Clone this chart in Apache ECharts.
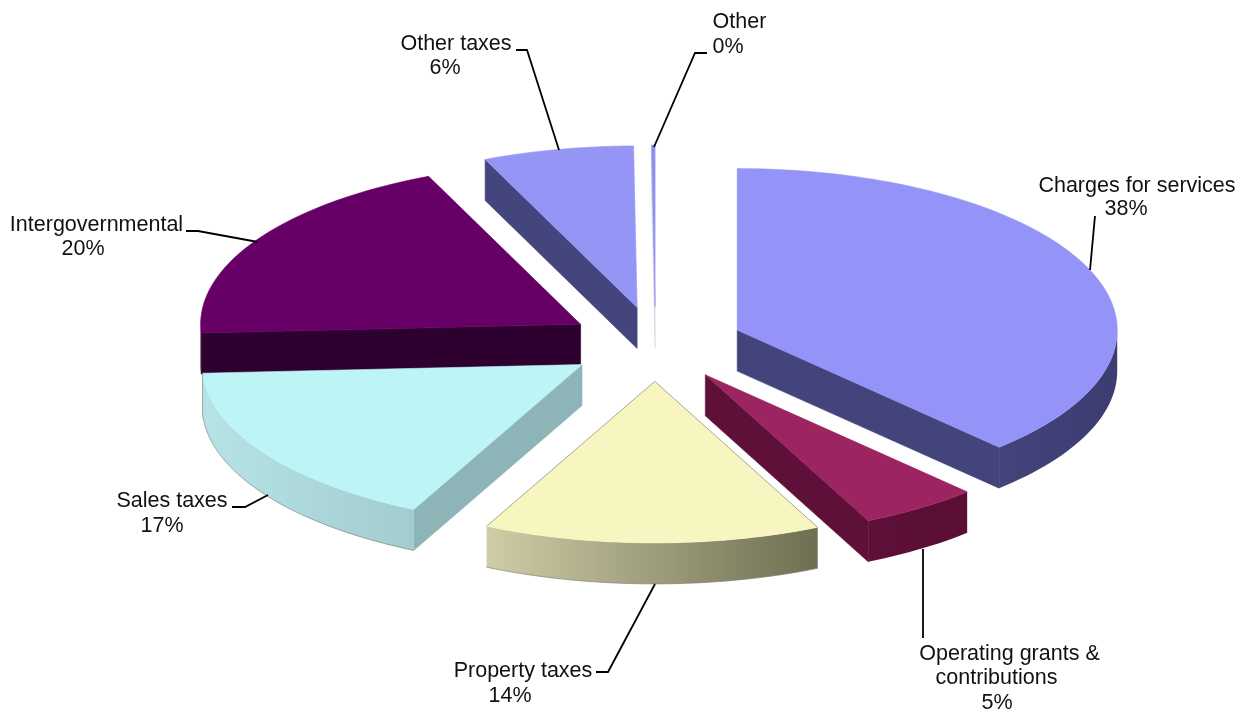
<!DOCTYPE html>
<html><head><meta charset="utf-8">
<style>html,body{margin:0;padding:0;background:#fff}#c{width:1251px;height:711px}</style>
<script src="https://cdn.jsdelivr.net/npm/echarts@6/dist/echarts.min.js"></script>
</head><body><div id="c"></div>
<script>
const categories = ['Charges for services','Operating grants & contributions','Property taxes','Sales taxes','Intergovernmental','Other taxes','Other'];
const shareValues = [37.9, 5.05, 14.35, 16.85, 19.3, 6.4, 0.15];
const percentLabels = ['38%','5%','14%','17%','20%','6%','0%'];
const topColors = ['#9494F8','#9C2460','#F8F6C0','#BDF4F6','#660066','#9595F5','#9090F0'];
const wallColors = ['#44447C','#5E1038','#A8A682','#8DB4B6','#2E0030','#45457E','#D4D4E0'];
const arcWallStops = [['#44447C','#3C3C70'],['#5E1038','#5A0E34'],['#CFCDA6','#6E6E52'],['#B6E4E6','#A2CCD0'],['#2E0030','#2E0030'],['#45457E','#45457E'],['#9090F0','#9090F0']];
const drawOrder = [5,6,4,0,3,1,2];

const geom = {cx:655.5, cy:344, rx:380, ry:161.5, depth:41, explode:88};
const labelLayout = [
 {lines:[['Charges for services',1137,186],['38%',1126,209]], leader:[[1090,270],[1095,216]]},
 {lines:[['Operating grants &',1009.5,654],['contributions',996.5,678],['5%',997,703]], leader:[[923,549],[923,638]]},
 {lines:[['Property taxes',523,671],['14%',510,696]], leader:[[655,584],[608,672],[596,672]]},
 {lines:[['Sales taxes',172,501],['17%',162,526]], leader:[[268,495],[245,507],[232,507]]},
 {lines:[['Intergovernmental',96.5,225],['20%',83,249]], leader:[[258,242],[198,231],[186,231]]},
 {lines:[['Other taxes',456,44],['6%',445,68]], leader:[[559,150],[527,50],[516,50]]},
 {lines:[['Other',739.5,22],['0%',728,47]], leader:[[654,147],[695,53],[707,53]]}
];

const total = shareValues.reduce((a,b)=>a+b,0);
const startAngles = []; let acc = 0;
shareValues.forEach(v=>{startAngles.push(acc/total*360); acc+=v;});

function rad(d){return d*Math.PI/180;}
function renderItem(params, api){
  const i = drawOrder[params.dataIndex];
  const v = api.value(0);
  const a0 = startAngles[i], a1 = a0 + v/total*360, mid = (a0+a1)/2;
  const k = geom.ry/geom.rx;
  const ox = geom.cx + geom.explode*Math.sin(rad(mid));
  const oy = geom.cy - geom.explode*k*Math.cos(rad(mid));
  const pt = (a,d)=>[ox+geom.rx*Math.sin(rad(a)), oy-geom.ry*Math.cos(rad(a))+(d||0)];
  const arc = (s,e,d)=>{const n=Math.max(2,Math.ceil(Math.abs(e-s)/1.5));const r=[];for(let j=0;j<=n;j++)r.push(pt(s+(e-s)*j/n,d));return r;};
  const apex=[ox,oy], apexB=[ox,oy+geom.depth];
  const kids=[];
  const edge={stroke:'rgba(125,125,125,0.65)',lineWidth:1,fill:null};
  const poly=(pts,fill,extra)=>kids.push({type:'polygon',shape:{points:pts},style:Object.assign({fill:fill,stroke:fill,lineWidth:0.6},extra||{})});
  const line=(pts,style)=>kids.push({type:'polyline',shape:{points:pts},style:style});
  if(a0>180) poly([apex,pt(a0),pt(a0,geom.depth),apexB],wallColors[i]);
  if(a1<180) poly([apex,pt(a1),pt(a1,geom.depth),apexB],wallColors[i]);
  const s=Math.max(a0,90), e=Math.min(a1,270);
  if(e>s){
    const up=arc(s,e,0), dn=arc(s,e,geom.depth);
    const st=arcWallStops[i];
    poly(up.concat(dn.slice().reverse()),{type:'linear',x:0,y:0,x2:1,y2:0,colorStops:[{offset:0,color:st[0]},{offset:1,color:st[1]}]},{stroke:null,lineWidth:0});
    if(i===2||i===3) line(dn,edge);
  }
  poly([apex].concat(arc(a0,a1,0)),topColors[i]);
  if(i===2){line([pt(a0),apex,pt(a1)],edge);}
  if(i===3){line([pt(a1,0),pt(a1,geom.depth)],edge);}
  const lay=labelLayout[i];
  line(lay.leader,{stroke:'#000',lineWidth:1.8,fill:null});
  lay.lines.forEach(l=>kids.push({type:'text',style:{text:l[0],x:l[1],y:l[2],fill:'#111',font:'21.5px "Liberation Sans", Arial, sans-serif',textAlign:'center',textVerticalAlign:'middle'}}));
  return {type:'group',children:kids};
}
const chart = echarts.init(document.getElementById('c'),null,{renderer:'canvas'});
chart.setOption({
  animation:false,
  backgroundColor:'#fff',
  series:[{type:'custom',coordinateSystem:'none',silent:true,renderItem:renderItem,
    data:drawOrder.map(i=>({name:categories[i],value:[shareValues[i]],label:percentLabels[i]}))}]
});
</script></body></html>
